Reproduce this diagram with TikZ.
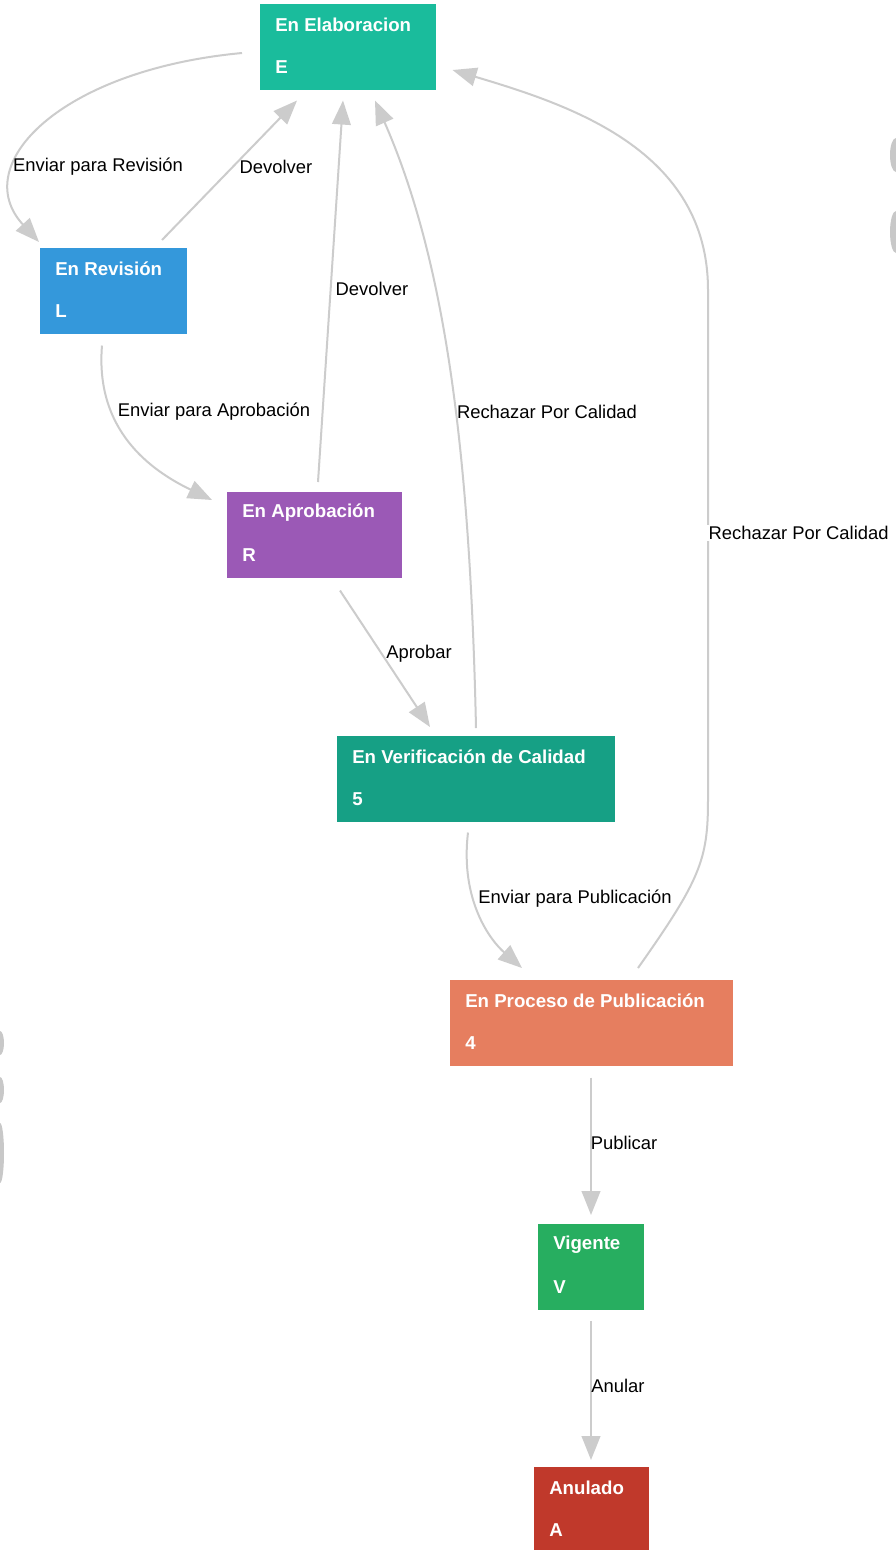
\documentclass[tikz,border=0pt]{standalone}
\usepackage{fontspec}
\setmainfont{Liberation Sans}
\usetikzlibrary{arrows.meta,calc}
\definecolor{cE}{RGB}{26,188,156}
\definecolor{cL}{RGB}{52,152,219}
\definecolor{cR}{RGB}{155,89,182}
\definecolor{cQ}{RGB}{22,160,133}
\definecolor{cP}{RGB}{230,126,95}
\definecolor{cV}{RGB}{39,174,96}
\definecolor{cA}{RGB}{192,57,43}
\definecolor{edgegray}{RGB}{204,204,204}
\definecolor{blobgray}{RGB}{200,200,200}
\newcommand\mkstate[7]{%
  \node[statebox, fill=#2, minimum width=#3, minimum height=#4] (#1) at (#5) {};
  \node[ttl] (#1t) at ($(#1.north west)+(15,21)$) {#6};
  \node[ttl] (#1c) at ($(#1.north west)+(15,63)$) {#7};
}
\begin{document}
\begin{tikzpicture}[x=0.75pt,y=-0.75pt,
  statebox/.style={draw=none, rectangle, inner sep=0pt, anchor=north west},
  ttl/.style={text=white, font=\fontsize{14}{16}\selectfont\bfseries, anchor=west, inner sep=0pt},
  edge/.style={draw=edgegray, line width=1.5pt, -{Triangle[length=18pt,width=14pt,fill=edgegray]}},
  lbl/.style={font=\fontsize{13.8}{16}\selectfont, inner sep=1pt}]
\useasboundingbox (0,0) rectangle (896,1550);
\fill[white] (0,0) rectangle (896,1550);

% partial shapes at the edges
\fill[blobgray] (896,155) ellipse [x radius=6, y radius=17];
\fill[blobgray] (896,232) ellipse [x radius=6, y radius=21];
\fill[blobgray] (0,1043) ellipse [x radius=4, y radius=12];
\fill[blobgray] (0,1090) ellipse [x radius=4, y radius=13];
\fill[blobgray] (0,1153) ellipse [x radius=4, y radius=30];

\mkstate{E}{cE}{132pt}{64.5pt}{260,4}{En Elaboracion}{E}
\mkstate{L}{cL}{110.25pt}{64.5pt}{40,248}{En Revisión}{L}
\mkstate{R}{cR}{131.25pt}{64.5pt}{227,492}{En Aprobación}{R}
\mkstate{Q}{cQ}{208.5pt}{64.5pt}{337,736}{En Verificación de Calidad}{5}
\mkstate{P}{cP}{212.25pt}{64.5pt}{450,980}{En Proceso de Publicación}{4}
\mkstate{V}{cV}{79.5pt}{64pt}{538,1224}{Vigente}{V}
\mkstate{A}{cA}{86.25pt}{64.5pt}{534,1467}{Anulado}{A}

% connectors
\draw[edge] ($(E.north west)+(-18,49)$) .. controls (60,70) and (-32,165) .. ($(L.north west)+(-1,-6)$);
\draw[edge] ($(L.north west)+(122,-8)$) -- ($(E.south west)+(37,10)$);
\draw[edge] ($(R.north west)+(91,-10)$) -- ($(E.south west)+(83,10)$);
\draw[edge] ($(L.south west)+(62,11)$) .. controls (95,430) and (150,470) .. ($(R.north west)+(-15,8)$);
\draw[edge] ($(R.south west)+(113,12)$) -- ($(Q.north west)+(93,-9)$);
\draw[edge] ($(Q.north west)+(139,-8)$) .. controls (470,450) and (445,260) .. ($(E.south west)+(115,10)$);
\draw[edge] ($(Q.south west)+(131,10)$) .. controls (460,900) and (490,940) .. ($(P.north west)+(72,-12)$);
\draw[edge] ($(P.north west)+(188,-12)$) .. controls (700,880) and (708,860) .. (708,800) -- (708,290) .. controls (708,150) and (570,105) .. ($(E.north east)+(16,66)$);
\draw[edge] ($(P.south west)+(141,11)$) -- ($(V.north west)+(53,-9)$);
\draw[edge] ($(V.south west)+(53,11)$) -- ($(A.north west)+(57,-7)$);

% labels
\node[lbl] (l1) at (98,167) {Enviar para Revisión};
\node[lbl] (l2) at (276,167) {Devolver};
\node[lbl] (l3) at (372,289) {Devolver};
\node[lbl] (l4) at (214,412) {Enviar para Aprobación};
\node[lbl] (l5) at (419,654) {Aprobar};
\node[lbl] (l6) at (547,412) {Rechazar Por Calidad};
\node[lbl] (l7) at (575,899) {Enviar para Publicación};
\node[lbl, fill=white, anchor=west] (l8) at (707,533) {Rechazar Por Calidad};
\node[lbl] (l9) at (624,1143) {Publicar};
\node[lbl] (l10) at (618,1386) {Anular};
\end{tikzpicture}
\end{document}
